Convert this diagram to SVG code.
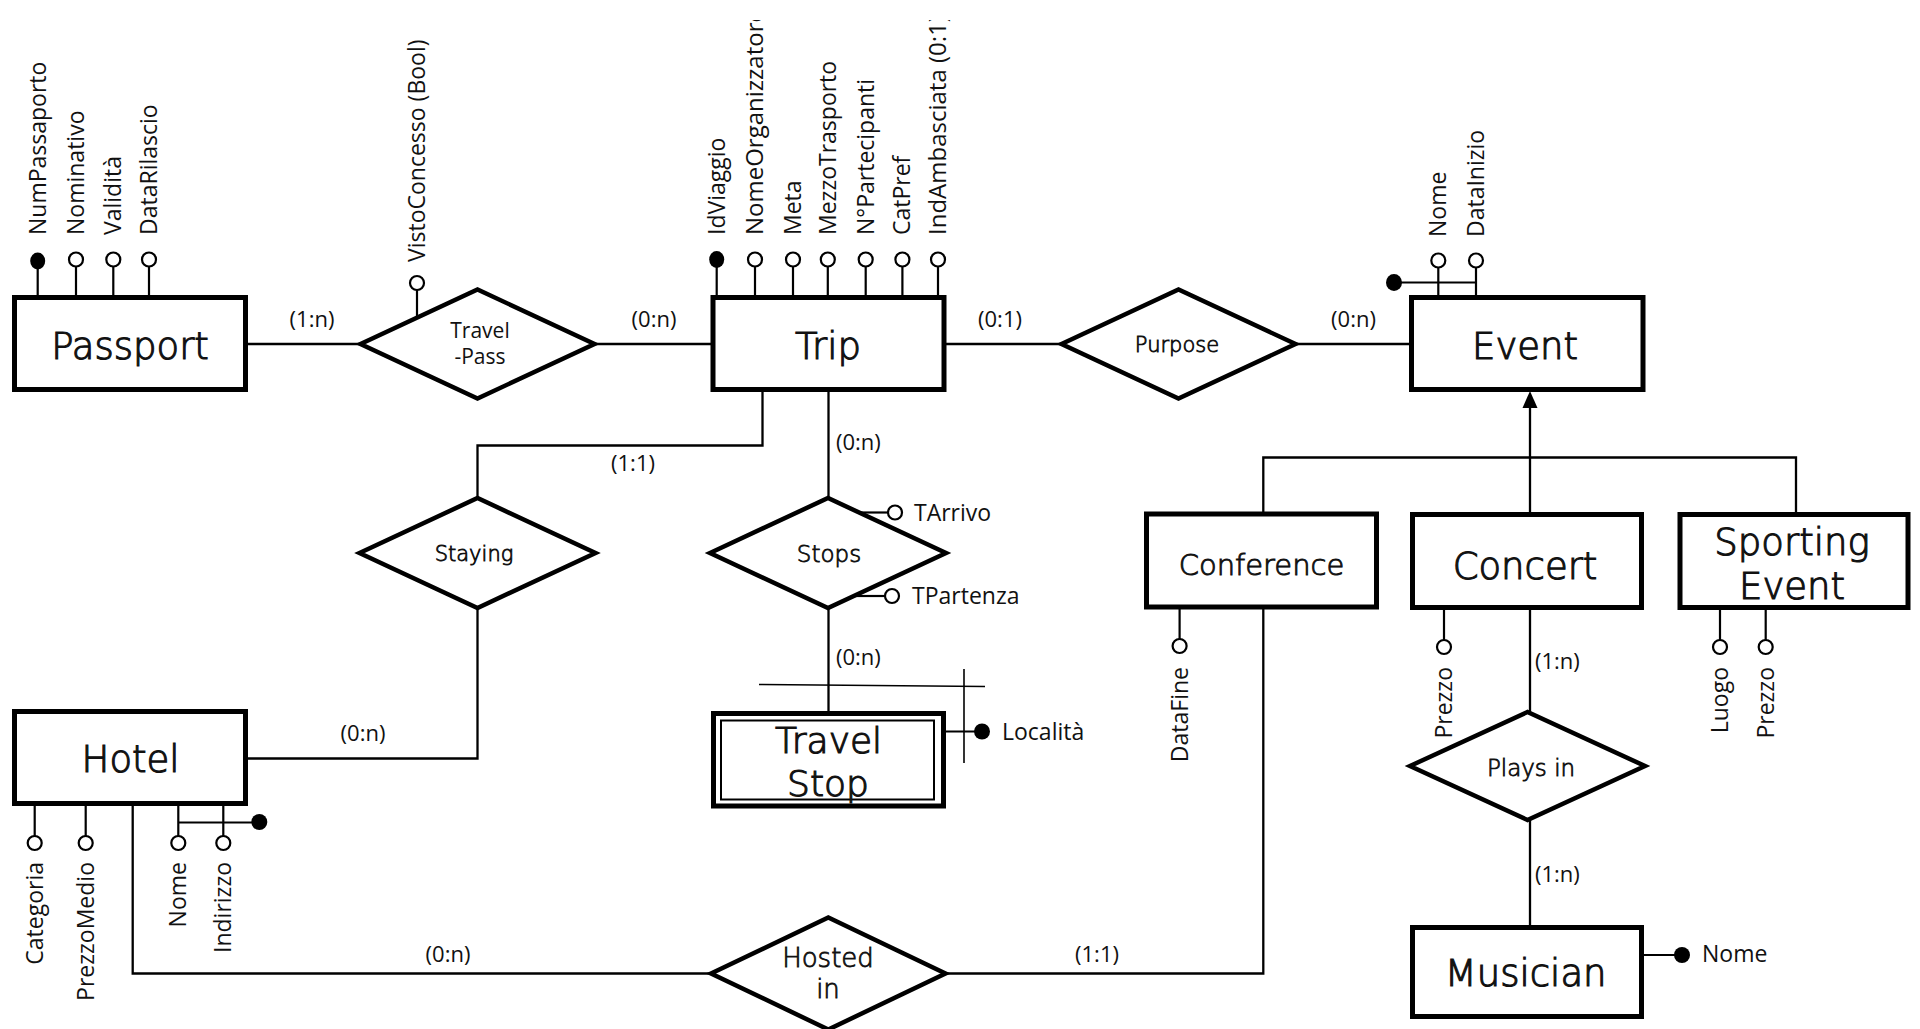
<svg xmlns="http://www.w3.org/2000/svg" width="1920" height="1029" viewBox="0 0 1920 1029">
<style>
.ent{fill:#fff;stroke:#000;stroke-width:5}
.ent2{fill:none;stroke:#000;stroke-width:2}
.rel{fill:#fff;stroke:#000;stroke-width:4.5}
.conn{fill:none;stroke:#000;stroke-width:2.3}
.st{stroke:#000;stroke-width:2.2;fill:none}
.thin{stroke:#000;stroke-width:1.6;fill:none}
.ao{fill:#fff;stroke:#000;stroke-width:2.2}
.af{fill:#000}
.et{font-family:"DejaVu Sans",sans-serif;font-weight:300;font-size:37px;text-anchor:middle;fill:#111;stroke:#111;stroke-width:1.1}
.rt{font-family:"DejaVu Sans",sans-serif;font-weight:300;text-anchor:middle;fill:#111;stroke:#111;stroke-width:0.8}
.at{font-family:"Open Sans","Noto Sans",sans-serif;font-size:23px;fill:#111}
.end{text-anchor:end}
.card{font-family:"Open Sans","Noto Sans",sans-serif;font-size:22px;fill:#111}
.mid{text-anchor:middle}
</style>
<defs>
<clipPath id="topclip"><rect x="0" y="20" width="1920" height="1009"/></clipPath>
</defs>
<rect x="0" y="0" width="1920" height="1029" fill="#fff"/>

<g id="connectors">
<line class="conn" x1="245.5" y1="344" x2="360.5" y2="344"/>
<line class="conn" x1="594.5" y1="344" x2="713" y2="344"/>
<line class="conn" x1="944" y1="344" x2="1061.5" y2="344"/>
<line class="conn" x1="1295.5" y1="344" x2="1411.5" y2="344"/>
<line class="conn" x1="828.5" y1="389.5" x2="828.5" y2="498"/>
<path class="conn" d="M762.5,389.5 V445.5 H477.5 V498"/>
<path class="conn" d="M477.5,608 V758.5 H245.5"/>
<line class="conn" x1="828.5" y1="608" x2="828.5" y2="713"/>
<path class="conn" d="M132.7,803.5 V973.5 H711"/>
<path class="conn" d="M945.5,973.5 H1263.3 V607"/>
<path class="conn" d="M1263.3,514 V457.5 H1796 V514.5"/>
<line class="conn" x1="1530" y1="514.5" x2="1530" y2="404"/>
<polygon points="1530,391 1522.5,408 1537.5,408" fill="#000"/>
<line class="conn" x1="1530" y1="607.5" x2="1530" y2="712"/>
<line class="conn" x1="1530" y1="820" x2="1530" y2="927.5"/>
<text class="card mid" x="312" y="327">(1:n)</text>
<text class="card mid" x="654" y="327">(0:n)</text>
<text class="card mid" x="1000" y="327">(0:1)</text>
<text class="card mid" x="1353.5" y="327">(0:n)</text>
<text class="card mid" x="633" y="471">(1:1)</text>
<text class="card" x="836" y="450">(0:n)</text>
<text class="card" x="836" y="665">(0:n)</text>
<text class="card mid" x="363" y="741">(0:n)</text>
<text class="card mid" x="448" y="962">(0:n)</text>
<text class="card mid" x="1097" y="962">(1:1)</text>
<text class="card" x="1535" y="669">(1:n)</text>
<text class="card" x="1535" y="882">(1:n)</text>
</g>

<g id="passport">
<rect class="ent" x="14.5" y="297.5" width="231" height="92"/>
<text class="et" x="130" y="359">Passport</text>
<path class="st" d="M37.7,269 V297 M76,266.5 V297 M113.3,266.5 V297 M149,266.5 V297"/>
<ellipse class="af" cx="37.7" cy="261" rx="7.5" ry="8.5"/>
<circle class="ao" cx="76" cy="259.5" r="7"/>
<circle class="ao" cx="113.3" cy="259.5" r="7"/>
<circle class="ao" cx="149" cy="259.5" r="7"/>
<text class="at" transform="translate(45.7,235) rotate(-90)">NumPassaporto</text>
<text class="at" transform="translate(84,235) rotate(-90)">Nominativo</text>
<text class="at" transform="translate(121.3,235) rotate(-90)">Validità</text>
<text class="at" transform="translate(157,235) rotate(-90)">DataRilascio</text>
</g>

<g id="travel-pass">
<polygon class="rel" points="360.5,344 477.5,289.5 594.5,344 477.5,398.5"/>
<text class="at mid" x="480" y="338" style="font-size:21px">Travel</text>
<text class="at mid" x="480" y="364" style="font-size:21px">-Pass</text>
<line class="st" x1="417" y1="290" x2="417" y2="318"/>
<circle class="ao" cx="417" cy="283" r="7"/>
<text class="at" transform="translate(425,262) rotate(-90)">VistoConcesso (Bool)</text>
</g>

<g id="trip">
<rect class="ent" x="713" y="297.5" width="231" height="92"/>
<text class="et" x="828" y="359">Trip</text>
<path class="st" d="M716.7,267 V297 M755,266.5 V297 M793,266.5 V297 M827.8,266.5 V297 M865.7,266.5 V297 M902.4,266.5 V297 M938,266.5 V297"/>
<ellipse class="af" cx="716.7" cy="259.5" rx="7.5" ry="8.5"/>
<circle class="ao" cx="755" cy="259.5" r="7"/>
<circle class="ao" cx="793" cy="259.5" r="7"/>
<circle class="ao" cx="827.8" cy="259.5" r="7"/>
<circle class="ao" cx="865.7" cy="259.5" r="7"/>
<circle class="ao" cx="902.4" cy="259.5" r="7"/>
<circle class="ao" cx="938" cy="259.5" r="7"/>
<g clip-path="url(#topclip)">
<text class="at" transform="translate(724.7,235) rotate(-90)">IdViaggio</text>
<text class="at" transform="translate(763,235) rotate(-90)" style="font-size:24px">NomeOrganizzatore</text>
<text class="at" transform="translate(801,235) rotate(-90)">Meta</text>
<text class="at" transform="translate(835.8,235) rotate(-90)">MezzoTrasporto</text>
<text class="at" transform="translate(873.7,235) rotate(-90)">N°Partecipanti</text>
<text class="at" transform="translate(910.4,235) rotate(-90)">CatPref</text>
<text class="at" transform="translate(946,235) rotate(-90)" style="font-size:24px">IndAmbasciata (0:1)</text>
</g>
</g>

<g id="purpose">
<polygon class="rel" points="1061.5,344 1178.5,289.5 1295.5,344 1178.5,398.5"/>
<text class="rt" x="1177" y="351.5" style="font-size:21px">Purpose</text>
</g>

<g id="event">
<rect class="ent" x="1411.5" y="297.5" width="231.5" height="92"/>
<text class="et" x="1525" y="359">Event</text>
<path class="st" d="M1438.3,267 V297 M1476,267 V297 M1394,282.5 H1476"/>
<ellipse class="af" cx="1394" cy="282.5" rx="8" ry="8.5"/>
<circle class="ao" cx="1438.3" cy="260.5" r="7"/>
<circle class="ao" cx="1476" cy="260.5" r="7"/>
<text class="at" transform="translate(1446.3,237) rotate(-90)">Nome</text>
<text class="at" transform="translate(1484,237) rotate(-90)">DataInizio</text>
</g>

<g id="staying">
<polygon class="rel" points="359.5,553 477.5,498 595.5,553 477.5,608"/>
<text class="rt" x="474" y="560.5" style="font-size:21px">Staying</text>
</g>

<g id="stops">
<polygon class="rel" points="710,553 828,498 946,553 828,608"/>
<text class="rt" x="829" y="561.5" style="font-size:23px">Stops</text>
<line class="st" x1="859" y1="512.5" x2="888" y2="512.5"/>
<circle class="ao" cx="895" cy="512.5" r="7"/>
<text class="at" x="914" y="520.5">TArrivo</text>
<line class="st" x1="855" y1="596" x2="885" y2="596"/>
<circle class="ao" cx="892" cy="596" r="7"/>
<text class="at" x="912" y="604">TPartenza</text>
</g>

<g id="travel-stop">
<rect class="ent" x="713.5" y="713.5" width="230" height="92.5"/>
<rect class="ent2" x="721" y="720.5" width="213" height="79"/>
<text class="et" x="828.6" y="752.6" style="font-size:36px">Travel</text>
<text class="et" x="828" y="795.6" style="font-size:36px">Stop</text>
<line class="thin" x1="759" y1="684.5" x2="985" y2="686.5"/>
<line class="thin" x1="964" y1="669" x2="964" y2="763"/>
<line class="st" x1="945.5" y1="731.5" x2="982" y2="731.5"/>
<circle class="af" cx="982" cy="731.5" r="8"/>
<text class="at" x="1002" y="739.5">Località</text>
</g>

<g id="hotel">
<rect class="ent" x="14.5" y="711.5" width="231" height="92"/>
<text class="et" x="130.6" y="771.5">Hotel</text>
<path class="st" d="M34.7,804 V836 M85.7,804 V836 M178.3,804 V836 M223.3,804 V836 M178.3,822.5 H259"/>
<circle class="af" cx="259.3" cy="822" r="8"/>
<circle class="ao" cx="34.7" cy="843" r="7"/>
<circle class="ao" cx="85.7" cy="843" r="7"/>
<circle class="ao" cx="178.3" cy="843" r="7"/>
<circle class="ao" cx="223.3" cy="843" r="7"/>
<text class="at end" transform="translate(42.7,862) rotate(-90)">Categoria</text>
<text class="at end" transform="translate(93.7,862) rotate(-90)">PrezzoMedio</text>
<text class="at end" transform="translate(186.3,862) rotate(-90)">Nome</text>
<text class="at end" transform="translate(231.3,862) rotate(-90)">Indirizzo</text>
</g>

<g id="hosted-in">
<polygon class="rel" points="711,973.5 828.3,917.5 945.5,973.5 828.3,1029.5"/>
<text class="rt" x="828" y="967.3" style="font-size:26px">Hosted</text>
<text class="rt" x="828" y="998.3" style="font-size:26px">in</text>
</g>

<g id="conference">
<rect class="ent" x="1146.5" y="514" width="230" height="93"/>
<text class="et" x="1261.5" y="574.7" style="font-size:29px;stroke-width:0.9">Conference</text>
<line class="st" x1="1179.6" y1="607" x2="1179.6" y2="639"/>
<circle class="ao" cx="1179.6" cy="646" r="7"/>
<text class="at end" transform="translate(1187.6,667) rotate(-90)">DataFine</text>
</g>

<g id="concert">
<rect class="ent" x="1412.5" y="514.5" width="229" height="93"/>
<text class="et" x="1525" y="578.7">Concert</text>
<line class="st" x1="1444" y1="607.5" x2="1444" y2="640"/>
<circle class="ao" cx="1444" cy="647" r="7"/>
<text class="at end" transform="translate(1452,667) rotate(-90)">Prezzo</text>
</g>

<g id="sporting-event">
<rect class="ent" x="1680" y="514.5" width="228" height="93"/>
<text class="et" x="1792" y="554.6">Sporting</text>
<text class="et" x="1792" y="598.8">Event</text>
<path class="st" d="M1720,607.5 V640 M1765.7,607.5 V640"/>
<circle class="ao" cx="1720" cy="647" r="7"/>
<circle class="ao" cx="1765.7" cy="647" r="7"/>
<text class="at end" transform="translate(1728,667) rotate(-90)">Luogo</text>
<text class="at end" transform="translate(1773.7,667) rotate(-90)">Prezzo</text>
</g>

<g id="plays-in">
<polygon class="rel" points="1410,766 1527.5,712 1645,766 1527.5,820"/>
<text class="rt" x="1531" y="775.5" style="font-size:23px">Plays in</text>
</g>

<g id="musician">
<rect class="ent" x="1412.5" y="927.5" width="229" height="89"/>
<text class="et" x="1525.7" y="986">Musician</text>
<line class="st" x1="1641.5" y1="955" x2="1682" y2="955"/>
<circle class="af" cx="1682" cy="955" r="8"/>
<text class="at" x="1702" y="962">Nome</text>
</g>
</svg>
